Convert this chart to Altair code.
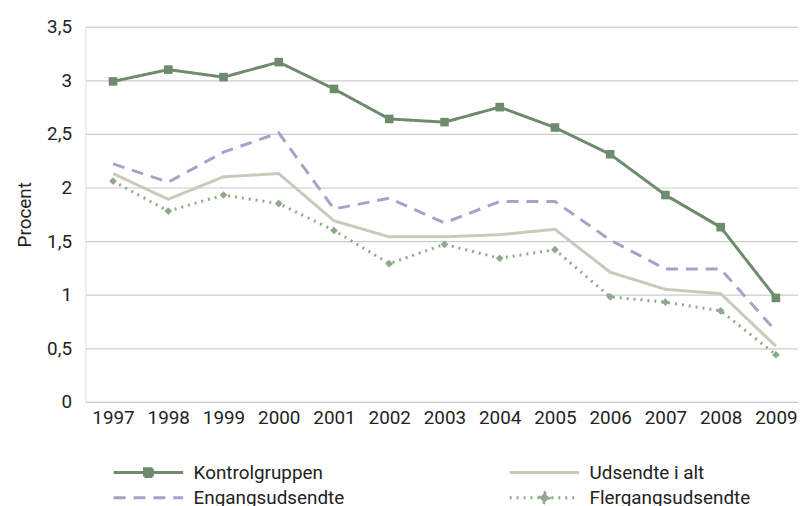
import altair as alt
import pandas as pd

years = list(range(1997, 2010))
series_names = ["Kontrolgruppen", "Udsendte i alt", "Engangsudsendte", "Flergangsudsendte"]
kontrol = [2.99, 3.10, 3.03, 3.17, 2.92, 2.64, 2.61, 2.75, 2.56, 2.31, 1.93, 1.63, 0.97]
udsendte = [2.13, 1.89, 2.10, 2.13, 1.69, 1.54, 1.54, 1.56, 1.61, 1.21, 1.05, 1.01, 0.52]
engang = [2.22, 2.05, 2.33, 2.51, 1.80, 1.90, 1.67, 1.87, 1.87, 1.51, 1.24, 1.24, 0.66]
flergang = [2.06, 1.78, 1.93, 1.85, 1.60, 1.29, 1.47, 1.34, 1.42, 0.98, 0.93, 0.85, 0.44]
y_ticks = [0, 0.5, 1, 1.5, 2, 2.5, 3, 3.5]

colors = ["#6e8b6e", "#cbc8bc", "#aba0c8", "#8fa88c"]
dashes = [[1, 0], [1, 0], [12, 8], [2, 5]]
legend_shapes = [
    "M-1,0L13,0M5.2,-0.8L6.8,-0.8L6.8,0.8L5.2,0.8Z",
    "M-1,0L13,0",
    "M-1,0L13,0",
    "M-1,0L13,0M6,-1L7,0L6,1L5,0Z",
]

rows = []
for name, vals in zip(series_names, [kontrol, udsendte, engang, flergang]):
    for y, v in zip(years, vals):
        rows.append({"year": y, "value": v, "series": name})
df = pd.DataFrame(rows)

FONT = "Roboto"

x = alt.X("year:Q", scale=alt.Scale(domain=[1996.5, 2009.4], nice=False, zero=False),
          axis=alt.Axis(values=years, format="d", title=None, grid=False, domain=False,
                        ticks=False, labelPadding=7, labelFontSize=19, labelColor="#222",
                        labelFont=FONT, labelFlush=False))
y = alt.Y("value:Q", scale=alt.Scale(domain=[0, 3.5], nice=False),
          axis=alt.Axis(values=y_ticks, title="Procent", grid=True, gridColor="#cccccc",
                        gridWidth=1.2, domain=False, ticks=False, labelPadding=14,
                        labelFontSize=19, labelColor="#222", labelFont=FONT,
                        titleFont=FONT, titleFontSize=19, titleFontWeight="normal",
                        titleColor="#222", titlePadding=12,
                        labelExpr="replace(toString(datum.value), '.', ',')"))

legend = alt.Legend(title=None, orient="none", legendX=24, legendY=439, columns=2,
                    direction="horizontal", columnPadding=149, rowPadding=3,
                    symbolSize=100, symbolOpacity=1, labelLimit=400,
                    symbolStrokeWidth=3, labelFontSize=19, labelFont=FONT, labelColor="#222",
                    labelOffset=66, gridAlign="all")

color_scale = alt.Scale(domain=series_names, range=colors)
dash_scale = alt.Scale(domain=series_names, range=dashes)
shape_scale = alt.Scale(domain=series_names, range=legend_shapes)

lines = alt.Chart(df).mark_line(strokeWidth=3).encode(
    x=x, y=y,
    stroke=alt.Stroke("series:N", scale=color_scale, legend=legend),
    strokeDash=alt.StrokeDash("series:N", scale=dash_scale, legend=legend),
)

legend_layer = alt.Chart(df).mark_point(opacity=0, size=1).encode(
    x=x, y=y,
    stroke=alt.Stroke("series:N", scale=color_scale, legend=legend),
    fill=alt.Fill("series:N", scale=color_scale, legend=legend),
    strokeDash=alt.StrokeDash("series:N", scale=dash_scale, legend=legend),
    shape=alt.Shape("series:N", scale=shape_scale, legend=legend),
)

pts_k = alt.Chart(df).transform_filter(alt.datum.series == "Kontrolgruppen").mark_point(
    shape="square", filled=True, size=75, opacity=1, color=colors[0]).encode(x=x, y=y)
pts_f = alt.Chart(df).transform_filter(alt.datum.series == "Flergangsudsendte").mark_point(
    shape="diamond", filled=True, size=60, opacity=1, color=colors[3]).encode(x=x, y=y)

chart = alt.layer(lines, legend_layer, pts_k, pts_f).properties(
    width=718, height=378,
    autosize=alt.AutoSizeParams(type="none"),
    padding={"left": 78, "top": 17, "right": 0, "bottom": 103},
).configure_view(stroke=None).configure(font=FONT)

chart.save("out.html", embed_options={"renderer": "svg", "actions": False})
